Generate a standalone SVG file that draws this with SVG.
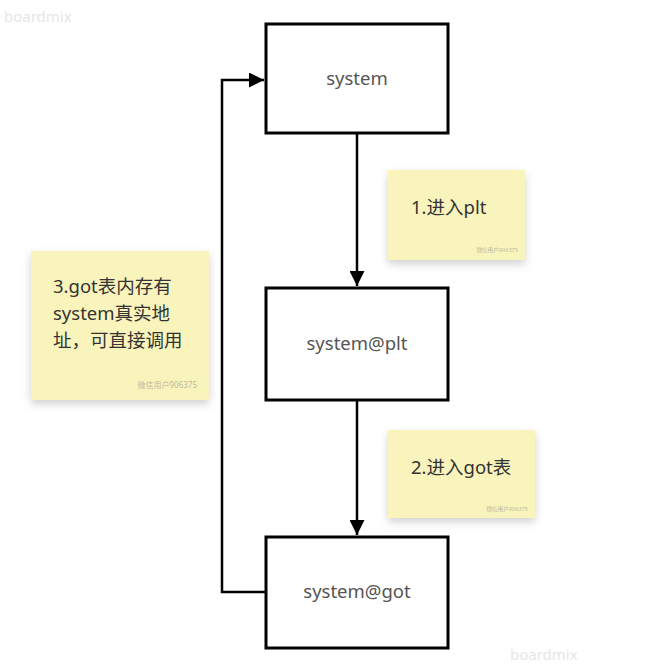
<svg xmlns="http://www.w3.org/2000/svg" width="671" height="670" viewBox="0 0 671 670">
<defs>
<style>
.box{fill:#fff;stroke:#000;stroke-width:3}
.lbl{font-family:"Noto Sans","Noto Sans CJK SC",sans-serif;font-size:18.5px;fill:#555;text-anchor:middle}
.note{fill:#f9f4bc;filter:url(#sh)}
.nt{font-family:"Noto Sans","Noto Sans CJK SC",sans-serif;font-size:18.5px;fill:#333}
.wm{font-family:"Noto Sans","Noto Sans CJK SC",sans-serif;font-size:8px;fill:#bdb9a0;text-anchor:end}
.wms{font-size:5.6px}
.bm{font-family:"Noto Sans",sans-serif;font-size:15px;fill:#e6e6e6}
.edge{fill:none;stroke:#000;stroke-width:2.5}
</style>
<filter id="sh" x="-20%" y="-20%" width="140%" height="150%">
<feDropShadow dx="0" dy="4" stdDeviation="4" flood-color="#000" flood-opacity="0.18"/>
</filter>
<marker id="ah" viewBox="0 0 10 10" refX="10" refY="5" markerWidth="6" markerHeight="6" markerUnits="strokeWidth" orient="auto">
<path d="M0,0 L10,5 L0,10 Z" fill="#000"/>
</marker>
</defs>
<rect width="671" height="670" fill="#fff"/>
<text class="bm" x="4" y="22">boardmix</text>
<text class="bm" x="510" y="660">boardmix</text>
<g id="connectors">
<path class="edge" d="M357,133 V286" marker-end="url(#ah)"/>
<path class="edge" d="M357,400 V535" marker-end="url(#ah)"/>
<path class="edge" d="M266,592 H222 V80 H264" marker-end="url(#ah)"/>
</g>
<g id="node-system">
<rect class="box" x="266" y="24" width="182" height="109"/>
<text class="lbl" x="357" y="85">system</text>
</g>
<g id="node-plt">
<rect class="box" x="266" y="288" width="182" height="112"/>
<text class="lbl" x="357" y="350">system@plt</text>
</g>
<g id="node-got">
<rect class="box" x="266" y="537" width="182" height="111"/>
<text class="lbl" x="357" y="598">system@got</text>
</g>
<g id="note1">
<rect class="note" x="388" y="170" width="137" height="90"/>
<text class="nt" x="411" y="214">1.进入plt</text>
<text class="wm wms" x="518" y="252">微信用户906375</text>
</g>
<g id="note2">
<rect class="note" x="388" y="430" width="147" height="88"/>
<text class="nt" x="411" y="474">2.进入got表</text>
<text class="wm wms" x="528" y="511">微信用户906375</text>
</g>
<g id="note3">
<rect class="note" x="31" y="251" width="178" height="149"/>
<text class="nt" x="53" y="293">3.got表内存有</text>
<text class="nt" x="53" y="320">system真实地</text>
<text class="nt" x="53" y="347">址，可直接调用</text>
<text class="wm" x="197" y="388">微信用户906375</text>
</g>
</svg>
